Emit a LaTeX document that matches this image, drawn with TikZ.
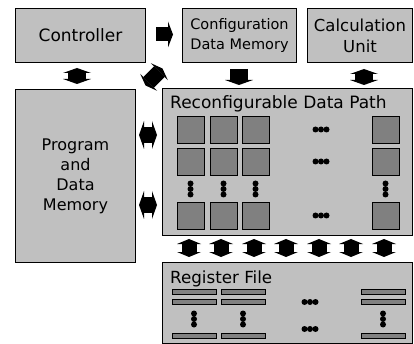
\documentclass[tikz,border=0pt]{standalone}
\usepackage{fontspec}
\setmainfont{DejaVu Sans}
\usetikzlibrary{arrows.meta}
\definecolor{boxgray}{HTML}{C0C0C0}
\definecolor{cellgray}{HTML}{808080}
\tikzset{
  box/.style={draw=black, line width=1pt, fill=boxgray, anchor=north west, inner sep=0pt, align=center},
  lbl/.style={anchor=base west, inner sep=0pt},
  cell/.style={draw=black, line width=0.8pt, fill=cellgray, anchor=north west, minimum width=27pt, minimum height=27pt, inner sep=0pt},
  regbar/.style={draw=black, line width=0.8pt, fill=cellgray, anchor=north west, minimum width=44pt, minimum height=5pt, inner sep=0pt},
  dotn/.style={circle, fill=black, inner sep=0pt, minimum size=6pt},
  fatdbl/.style={draw=black, line width=18pt, {Triangle[width=28pt,length=5pt,line width=0pt]}-{Triangle[width=28pt,length=5pt,line width=0pt]}},
  fatone/.style={draw=black, line width=18pt, -{Triangle[width=28pt,length=5pt,line width=0pt]}},
  fatsmall/.style={draw=black, line width=15pt, {Triangle[width=24pt,length=5pt,line width=0pt]}-{Triangle[width=24pt,length=5pt,line width=0pt]}},
  fatdiag/.style={draw=black, line width=15pt, {Triangle[width=24pt,length=4.5pt,line width=0pt]}-{Triangle[width=24pt,length=4.5pt,line width=0pt]}},
}
\begin{document}
\begin{tikzpicture}[x=1pt,y=-1pt]
\useasboundingbox (0,0) rectangle (414,344);
% boxes
\node[box, minimum width=130pt, minimum height=54pt, font=\fontsize{17}{20}\selectfont] (ctrl) at (15,8) {Controller};
\node[box, minimum width=114pt, minimum height=54pt, font=\fontsize{14.5}{20}\selectfont] (cdm) at (182,8) {Configuration\\Data Memory};
\node[box, minimum width=105pt, minimum height=54pt, font=\fontsize{16.5}{21}\selectfont] (cu) at (307,8) {Calculation\\Unit};
\node[box, minimum width=120pt, minimum height=173pt, font=\fontsize{16}{20}\selectfont] (pdm) at (15,89) {Program\\and\\Data\\Memory};
\node[box, minimum width=250pt, minimum height=147pt] (rdp) at (162,88) {};
\node[lbl, font=\fontsize{17}{20}\selectfont] (rdpl) at (170,109) {Reconfigurable Data Path};
\node[box, minimum width=250pt, minimum height=81pt] (rf) at (162,262) {};
\node[lbl, font=\fontsize{16.7}{20}\selectfont] (rfl) at (170,283) {Register File};
% cells
\foreach \r/\y in {1/116,2/148,3/202}{
  \foreach \c/\x in {1/177,2/210,3/242,4/372}{
    \node[cell] (c\r\c) at (\x,\y) {};
  }
}
% dots in data path
\foreach \y in {129.5,161.5,215.5}{
  \foreach \dx in {-5.5,0,5.5}{ \node[dotn] at (321+\dx,\y) {}; }
}
\foreach \x in {190.5,223.5,255.5,385.5}{
  \foreach \dy in {-5.5,0,5.5}{ \node[dotn] at (\x,189+\dy) {}; }
}
% register bars
\foreach \r/\y in {1/289,2/299,3/333}{
  \foreach \c/\x in {1/172,2/221,3/361}{
    \node[regbar] (b\r\c) at (\x,\y) {};
  }
}
\foreach \y in {302,329}{
  \foreach \dx in {-5.5,0,5.5}{ \node[dotn] at (310+\dx,\y) {}; }
}
\foreach \x in {194,243,383}{
  \foreach \dy in {-5.5,0,5.5}{ \node[dotn] at (\x,319+\dy) {}; }
}
% arrows
\draw[draw=black, line width=14pt, -{Triangle[width=26pt,length=5pt,line width=0pt]}, shorten <=10pt, shorten >=9pt]
  ([yshift=1pt]ctrl.east) -- ([yshift=1pt]ctrl.east -| cdm.west);
\draw[fatdbl, shorten <=5pt, shorten >=5pt] (ctrl.south -| 77,0) -- (pdm.north -| 77,0);
\coordinate (d1) at (145.5,85.5);
\coordinate (d2) at (162.5,68.5);
\draw[fatdiag] (d1) -- (d2);
\draw[fatdbl, line width=16pt, shorten <=3pt, shorten >=5pt] (pdm.east |- 0,135) -- (rdp.west |- 0,135);
\draw[fatdbl, line width=16pt, shorten <=3pt, shorten >=5pt] (pdm.east |- 0,205) -- (rdp.west |- 0,205);
\draw[fatone, shorten <=6pt, shorten >=3pt] (cdm.south -| 239,0) -- (rdp.north -| 239,0);
\draw[fatdbl, shorten <=6pt, shorten >=3pt] (cu.south -| 364,0) -- (rdp.north -| 364,0);
\foreach \x in {189,221,254,286,319,351,384}{
  \draw[fatsmall, shorten <=3pt, shorten >=5pt] (rdp.south -| \x,0) -- (rf.north -| \x,0);
}
\end{tikzpicture}
\end{document}
